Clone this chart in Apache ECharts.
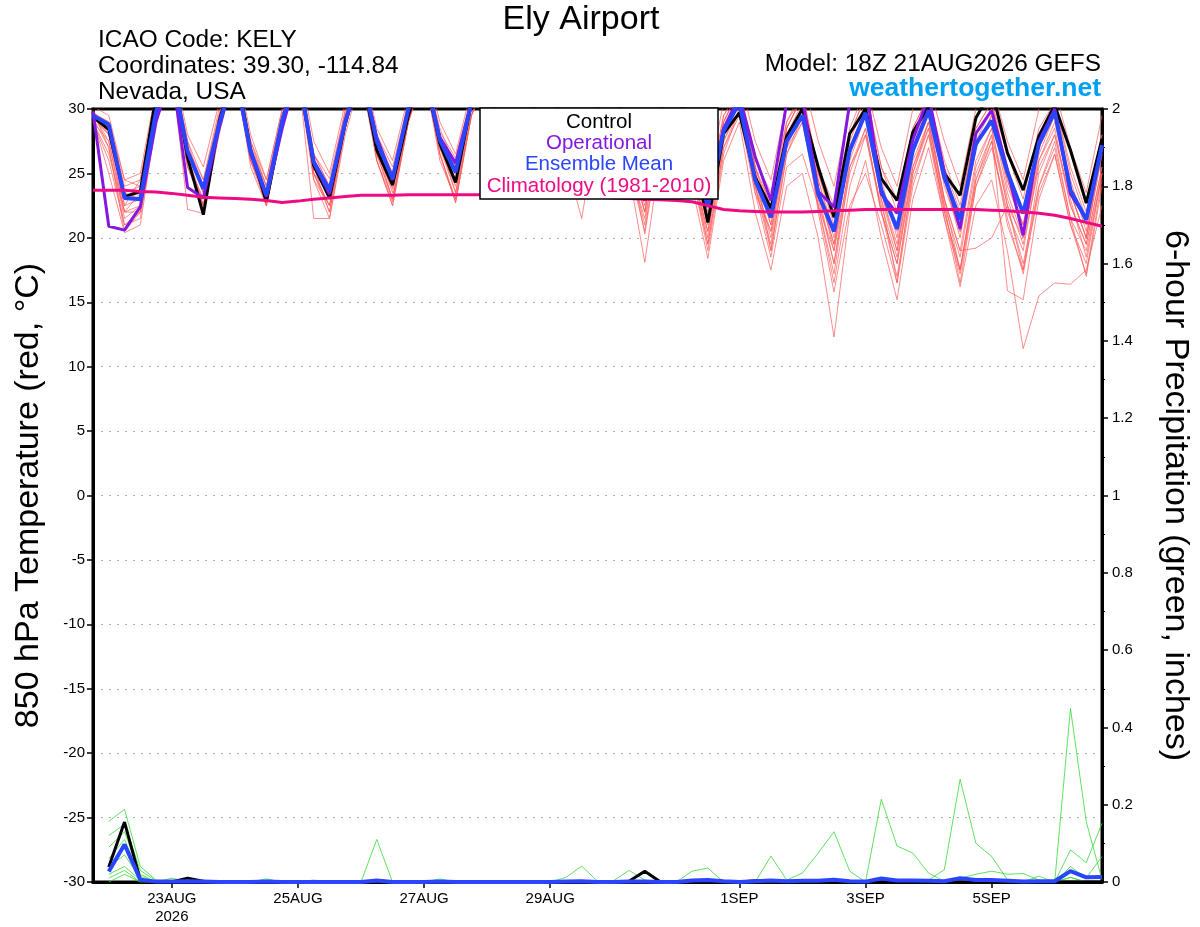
<!DOCTYPE html>
<html><head><meta charset="utf-8">
<script src="https://cdn.jsdelivr.net/npm/echarts@6/dist/echarts.min.js"></script>
<style>html,body{margin:0;padding:0;background:#fff}#c{width:1200px;height:927px}</style>
</head><body><div id="c"></div>
<script>
// forecast hours from 18Z 21AUG2026, every 6 h
const forecastHours = Array.from({length: 65}, (_, i) => i * 6);
const tickIndex = [5, 13, 21, 29, 41, 49, 57];
const tickLabels = ['23AUG\n2026', '25AUG', '27AUG', '29AUG', '1SEP', '3SEP', '5SEP'];

// 850 hPa temperature (°C)
const control = [29.4,
 28.4,23.2,23.6,31.0, 33.5,26.2,21.8,29.0, 33.5,26.8,22.8,28.9, 33.0,25.6,23.1,28.9,
 33.0,26.8,24.1,29.5, 33.0,27.3,24.3,30.5, 33.0,27.5,24.0,30.5, 33.0,27.0,23.5,30.0,
 33.0,27.0,22.9,30.0, 33.0,27.0,21.2,28.1, 29.7,24.7,22.3,27.9, 30.0,25.5,21.6,28.1,
 30.0,24.6,22.9,28.2, 30.2,25.0,23.3,29.3, 31.5,26.6,23.7,27.9, 30.3,26.8,22.7,27.7];
const operational = [29.8,
 20.9,20.6,22.4,29.0, 33.0,23.9,23.1,28.5, 33.0,26.5,23.2,28.5, 33.0,25.8,23.4,29.0,
 33.0,27.8,24.5,30.0, 33.0,27.8,25.8,30.5, 33.0,27.5,24.5,30.5, 33.0,27.0,24.0,30.0,
 33.0,27.0,23.5,30.0, 33.0,27.0,22.7,28.5, 31.0,26.3,22.9,30.5, 30.8,23.6,22.4,30.5,
 32.0,23.4,21.9,27.6, 31.0,25.1,20.7,28.1, 29.9,25.3,20.2,27.5, 30.0,23.4,21.5,27.1];
const ensMean = [29.5,
 28.8,23.1,23.0,29.8, 33.0,26.7,23.8,28.8, 33.0,26.7,23.3,29.1, 33.0,25.9,23.7,29.0,
 33.0,27.5,24.6,30.0, 33.0,27.6,25.1,30.5, 32.5,27.5,24.5,30.3, 32.5,27.0,23.8,30.0,
 32.5,27.0,23.5,30.0, 32.0,27.0,22.4,28.3, 30.5,24.5,21.6,27.5, 29.5,23.4,20.5,26.8,
 29.7,23.7,20.7,26.8, 29.9,24.7,21.4,27.3, 29.1,25.1,21.9,27.3, 29.8,23.7,21.4,27.2];
const climatology = [23.7,
 23.7,23.7,23.6,23.55, 23.45,23.3,23.15,23.1, 23.05,23.0,22.9,22.75, 22.85,23.0,23.1,23.2,
 23.3,23.3,23.3,23.35, 23.35,23.35,23.35,23.35, 23.35,23.3,23.3,23.3, 23.25,23.2,23.2,23.15,
 23.1,23.05,23.0,22.95, 22.9,22.8,22.5,22.2, 22.1,22.05,22.0,22.0, 22.0,22.05,22.1,22.15,
 22.2,22.2,22.2,22.2, 22.2,22.2,22.2,22.2, 22.15,22.1,22.0,21.9, 21.75,21.5,21.2,20.9];

const m1 = [29.6,
 29.0,24.0,24.5,31.0, 33.5,27.0,24.5,29.5, 33.5,27.2,24.0,29.6, 33.2,26.5,24.6,29.8,
 33.5,28.0,25.5,30.5, 33.5,28.2,26.2,31.0, 33.0,28.0,25.5,31.0, 33.0,27.5,24.8,30.5,
 33.0,27.5,24.5,30.5, 32.5,27.5,23.5,29.5, 31.5,26.0,23.5,29.0, 31.0,25.5,22.5,28.5,
 31.5,25.5,23.0,28.5, 31.0,26.0,22.5,28.5, 30.5,26.5,23.0,28.5, 30.5,25.5,22.0,28.0];
const m2 = [29.0,
 26.0,21.0,21.5,29.0, 32.5,25.5,22.5,28.5, 32.5,26.0,22.5,28.5, 32.5,24.5,21.5,28.0,
 32.5,26.0,22.5,29.0, 32.5,26.5,22.8,29.5, 32.0,26.5,23.5,29.5, 32.0,26.0,21.5,29.0,
 32.0,25.5,20.5,28.5, 31.0,25.0,19.5,27.0, 30.0,24.0,19.0,26.5, 29.5,22.5,16.5,24.0,
 28.0,22.0,18.0,25.5, 29.0,23.0,19.0,26.0, 28.5,23.0,19.5,25.5, 28.0,22.5,19.5,25.5];
const m3 = [29.3,
 28.0,22.5,23.0,30.5, 33.0,26.0,23.0,29.0, 33.0,26.5,23.5,29.0, 33.0,25.5,23.0,29.0,
 33.0,27.0,23.5,29.5, 33.0,27.0,24.0,30.0, 32.5,27.0,24.0,30.0, 32.5,26.5,23.0,29.5,
 32.5,25.0,18.1,26.5, 30.5,24.0,18.4,26.0, 29.0,22.0,17.5,24.0, 25.0,20.0,12.3,22.0,
 26.0,20.0,15.2,23.0, 27.0,21.5,16.2,22.5, 24.5,19.0,11.4,15.5, 16.5,16.4,17.5,22.5];
const m4 = [29.8,
 27.0,20.5,22.0,29.5, 33.0,22.2,21.9,28.0, 33.0,26.0,23.0,28.8, 33.0,25.0,22.5,28.5,
 33.0,26.5,23.0,29.0, 33.0,26.5,23.0,29.5, 32.5,27.0,23.5,30.0, 32.5,26.5,23.5,30.0,
 32.5,26.0,21.0,29.0, 31.5,25.5,20.5,28.0, 30.5,24.5,20.0,27.5, 30.0,23.5,18.0,26.0,
 29.5,23.0,16.5,25.0, 28.5,22.0,17.5,25.0, 28.0,15.9,15.2,23.0, 26.5,21.0,17.2,24.5];
const m5 = [29.5,
 28.5,23.5,24.0,30.5, 33.5,26.5,23.5,29.5, 33.5,26.0,23.0,28.5, 33.0,21.5,21.5,28.5,
 33.0,26.5,23.8,29.5, 33.0,27.0,24.5,30.0, 32.5,27.5,24.5,30.5, 32.5,27.0,24.0,30.0,
 32.5,26.5,22.0,29.5, 31.5,25.5,21.0,28.5, 30.5,25.0,21.0,28.0, 30.5,24.0,19.0,27.0,
 30.0,23.5,19.0,26.5, 29.5,23.0,19.0,19.2, 20.0,22.5,20.0,26.0, 29.0,23.5,20.0,26.5];
const m6 = [29.2,
 25.0,20.4,21.0,29.0, 32.5,26.0,22.5,28.5, 33.0,26.5,22.5,29.0, 33.0,24.5,22.5,28.5,
 33.0,26.0,22.5,29.0, 33.0,26.5,22.7,29.5, 32.5,27.0,23.5,30.0, 32.5,26.5,23.5,30.0,
 32.5,26.5,23.5,30.0, 32.0,26.5,22.5,29.0, 31.5,25.5,19.0,26.5, 29.0,23.0,18.0,25.0,
 28.5,22.0,18.0,25.0, 29.0,23.0,17.5,24.5, 28.0,22.5,17.5,25.0, 28.0,23.0,18.5,25.0];
const m7 = [30.2,
 29.5,24.5,25.0,31.5, 34.0,28.0,25.5,30.5, 34.0,28.0,24.5,30.0, 34.0,27.5,25.0,30.5,
 34.0,28.5,26.0,31.0, 34.0,29.0,26.5,31.5, 33.5,29.0,26.5,31.5, 33.5,28.5,26.0,31.0,
 33.5,28.5,25.5,31.0, 33.0,28.0,24.5,30.5, 32.5,27.5,24.5,30.5, 32.5,27.5,24.0,30.0,
 32.0,27.0,24.0,30.0, 32.0,27.5,24.0,30.0, 32.0,27.5,24.5,30.0, 31.5,27.0,23.5,29.5];
const m8 = [29.0,
 27.5,22.0,22.5,30.0, 33.0,25.5,23.0,29.0, 33.0,26.5,23.5,29.0, 33.0,25.0,23.5,29.5,
 33.0,27.0,24.0,30.0, 33.0,27.5,24.5,30.5, 33.0,27.5,25.0,30.5, 33.0,27.0,24.5,30.5,
 33.0,27.0,22.5,29.5, 31.5,25.5,19.5,27.0, 29.5,23.5,20.5,27.5, 30.0,22.0,15.8,22.5,
 25.0,21.0,16.5,24.0, 28.0,22.5,18.5,25.5, 28.5,22.5,18.0,24.0, 27.0,21.5,17.0,24.0];
const m9 = [29.4,
 28.0,23.0,23.5,30.5, 33.0,27.0,24.0,29.5, 33.0,27.0,24.0,29.5, 33.0,26.0,24.0,29.5,
 33.0,27.5,25.0,30.0, 33.0,28.0,25.5,30.5, 33.0,28.0,25.0,31.0, 33.0,27.5,24.5,30.5,
 32.5,27.0,23.0,30.0, 32.0,26.5,22.0,29.0, 31.5,25.5,22.5,29.0, 31.5,25.0,21.0,28.0,
 31.0,24.5,20.0,27.5, 30.5,24.5,20.5,27.5, 30.0,24.0,21.0,27.0, 29.5,24.5,20.5,27.0];
const m10 = [29.6,
 27.5,21.5,22.5,30.0, 33.0,26.5,22.5,29.0, 33.0,26.0,23.5,29.0, 33.0,25.5,22.0,29.0,
 33.0,27.0,23.0,29.5, 33.0,27.5,23.5,30.0, 33.0,27.5,24.0,30.0, 33.0,27.5,23.5,30.0,
 32.5,26.5,20.3,28.0, 31.0,25.0,20.5,27.5, 30.5,24.0,20.5,27.0, 30.0,23.5,19.5,26.5,
 29.5,23.0,19.0,26.0, 29.0,22.5,16.5,24.0, 27.0,22.0,19.0,26.0, 28.5,22.5,19.5,25.5];
const m11 = [29.8,
 28.5,22.5,24.5,30.5, 33.0,27.5,23.5,29.5, 33.5,27.5,24.5,30.0, 33.5,26.5,24.0,30.0,
 33.5,27.5,24.5,30.0, 33.5,28.0,25.0,30.5, 33.0,28.0,24.5,30.5, 33.0,27.5,24.0,30.5,
 33.0,27.0,22.0,29.5, 32.0,26.0,21.5,28.5, 31.0,25.5,21.5,28.5, 31.0,24.5,20.0,27.5,
 30.5,24.0,21.0,27.5, 30.5,24.5,21.5,28.0, 30.0,24.5,20.5,27.0, 29.5,23.5,20.0,27.0];
const m12 = [29.0,
 26.5,22.0,22.0,29.5, 33.0,26.0,22.5,28.5, 33.0,26.0,23.0,28.5, 33.0,25.0,22.5,28.5,
 33.0,26.5,23.0,29.0, 33.0,27.0,23.5,29.5, 32.5,27.0,23.5,30.0, 32.5,26.5,23.0,29.5,
 32.0,25.5,21.5,28.5, 31.0,25.0,19.0,26.5, 30.0,23.5,18.5,25.5, 26.5,22.5,17.2,25.5,
 28.0,22.5,18.5,25.5, 28.5,22.0,17.5,24.5, 27.5,21.0,17.5,23.5, 26.5,21.0,18.0,25.0];
const m13 = [29.5,
 28.5,23.5,23.0,30.5, 33.5,27.0,23.5,29.0, 33.5,27.0,23.5,29.5, 33.5,26.0,23.5,29.0,
 33.5,27.5,24.0,30.0, 33.5,27.5,24.5,30.5, 33.0,28.0,24.5,30.5, 33.0,27.0,24.0,30.5,
 33.0,27.0,23.0,30.0, 32.0,26.5,22.5,29.0, 31.5,25.0,21.0,27.5, 30.0,24.5,20.5,27.0,
 30.0,24.0,20.5,27.0, 30.5,24.5,20.0,27.0, 29.5,24.5,21.0,27.5, 30.0,24.0,21.0,27.5];
const m14 = [29.7,
 29.0,24.5,24.0,31.0, 33.5,27.5,24.5,30.0, 33.5,27.5,24.0,29.5, 33.5,26.5,24.0,29.5,
 33.5,28.0,25.0,30.5, 33.5,28.5,25.5,31.0, 33.0,28.5,25.5,31.0, 33.0,28.0,25.0,31.0,
 33.0,28.0,24.0,30.5, 32.5,27.0,23.0,29.5, 31.5,26.5,22.0,28.5, 31.0,25.0,21.5,28.0,
 31.0,25.5,22.0,28.5, 31.0,25.5,22.0,28.5, 30.5,25.5,22.0,28.0, 30.5,25.0,21.5,28.0];
const m15 = [29.3,
 27.0,21.0,22.0,29.5, 33.0,25.5,22.5,28.5, 33.0,25.5,22.5,28.5, 33.0,25.0,22.0,28.5,
 33.0,26.0,22.8,29.0, 33.0,26.0,23.0,29.5, 32.5,26.5,23.5,29.5, 32.5,26.5,23.0,29.5,
 32.0,26.0,22.0,29.0, 31.5,25.5,20.0,27.5, 30.0,24.0,19.5,27.0, 29.0,22.5,19.0,25.5,
 28.5,22.0,17.0,24.5, 28.0,21.5,17.2,24.0, 27.5,21.5,17.2,24.0, 27.5,21.5,19.0,25.0];
const m16 = [29.9,
 28.0,22.0,23.5,30.5, 33.5,26.5,24.0,29.5, 33.5,27.0,23.5,29.5, 33.5,26.0,23.0,29.0,
 33.5,27.0,24.5,30.0, 33.5,27.5,25.0,30.5, 33.0,27.5,25.0,30.5, 33.0,27.5,24.5,30.5,
 33.0,27.5,23.5,30.5, 32.5,27.0,21.5,28.5, 31.0,25.5,22.0,28.5, 31.0,24.0,19.5,26.5,
 29.5,23.5,19.5,26.5, 30.0,24.0,20.5,27.0, 29.5,23.5,20.0,26.5, 29.5,23.5,20.0,26.5];
const members = [m1, m2, m3, m4, m5, m6, m7, m8, m9, m10, m11, m12, m13, m14, m15, m16];

// 6-hour precipitation (inches)
const precipControl = ['-',
 0.039,0.155,0.005,0,0,0.010,0.002,0, 0,0,0,0,0,0,0,0, 0,0,0,0,0,0,0,0, 0,0,0,0,0,0,0,0,
 0,0.002,0.028,0,0,0,0,0, 0,0.003,0,0,0,0,0,0, 0,0,0,0,0,0,0,0, 0,0,0,0,0,0,0,0];
const precipMean = ['-',
 0.027,0.097,0.006,0.001,0.001,0.002,0.001,0, 0,0,0.001,0,0,0,0,0, 0,0.004,0,0,0,0.001,0,0,
 0,0,0,0,0,0.001,0.002,0, 0,0.001,0.001,0,0,0.004,0.005,0.002, 0,0.002,0.004,0.002,0.003,0.003,0.006,0.002,
 0.001,0.009,0.004,0.004,0.003,0.002,0.010,0.005, 0.005,0.003,0.001,0.002,0.002,0.028,0.012,0.013];
const g1 = ['-',
 0.157,0.188,0.040,0.005,0,0,0,0, 0,0,0,0,0,0,0,0, 0,0.110,0,0,0,0,0,0, 0,0,0,0,0,0,0,0,
 0,0,0,0,0,0,0,0, 0,0,0,0,0,0,0,0, 0,0,0,0,0,0,0,0, 0,0,0,0,0,0.449,0.156,0.006];
const g2 = ['-',
 0.120,0.150,0.030,0.003,0,0,0,0, 0,0,0,0,0,0,0,0, 0,0,0,0,0,0,0,0, 0,0,0,0,0,0,0,0,
 0,0,0,0,0,0,0,0, 0,0,0,0,0,0,0,0, 0,0.214,0.093,0.075,0.023,0.002,0,0, 0,0,0,0,0,0,0,0];
const g3 = ['-',
 0.090,0.130,0.020,0,0.010,0,0,0, 0,0,0,0,0,0,0,0, 0,0,0,0,0,0,0,0, 0,0,0,0,0,0,0,0,
 0,0,0,0,0,0,0,0, 0,0,0,0,0,0,0,0, 0,0,0,0,0.005,0.032,0.266,0.100, 0.066,0.006,0,0,0,0.012,0,0];
const g4 = ['-',
 0.060,0.110,0.015,0,0,0,0,0, 0,0,0.008,0,0,0,0,0, 0,0,0,0,0,0,0,0, 0,0,0,0,0,0,0,0,
 0,0,0,0,0,0,0,0, 0,0,0.067,0.005,0.023,0.075,0.130,0.028, 0,0,0,0,0,0,0,0, 0,0,0,0,0,0,0,0];
const g5 = ['-',
 0.040,0.070,0.010,0,0,0,0,0, 0,0,0,0,0,0,0,0, 0,0,0,0,0,0.008,0,0, 0,0,0,0,0,0,0,0,
 0,0,0,0,0,0.028,0.036,0, 0,0,0,0,0,0,0,0, 0,0,0,0,0,0,0,0, 0,0,0,0.015,0,0.083,0.050,0.152];
const g6 = ['-',
 0.020,0.040,0.005,0,0,0,0,0, 0,0,0,0,0,0.005,0,0, 0,0,0,0,0,0,0,0, 0,0,0,0,0,0.012,0.041,0.002,
 0.003,0.030,0.005,0,0,0,0,0, 0,0,0,0,0,0,0,0, 0,0,0,0,0,0,0,0, 0,0,0,0,0,0.040,0.010,0.066];
const g7 = ['-',
 0.010,0.030,0,0,0,0,0,0, 0,0,0,0,0,0,0,0, 0,0,0,0,0,0,0,0, 0,0,0,0,0,0,0,0,
 0,0,0,0,0,0,0,0, 0,0,0,0,0,0,0,0, 0,0,0,0,0,0,0.010,0.020, 0.028,0.020,0.022,0.005,0,0.012,0,0];
const g8 = ['-',
 0,0.020,0,0,0,0,0,0, 0,0,0,0,0,0,0,0, 0,0,0,0,0,0,0,0, 0,0,0,0,0,0,0,0,
 0,0,0,0,0,0,0,0, 0,0,0,0,0,0,0,0, 0,0,0,0,0,0,0,0, 0,0,0,0,0,0,0,0];
const precipMembers = [g1, g2, g3, g4, g5, g6, g7, g8];

const FONT = '"Liberation Sans", Arial, sans-serif';
const C_CTRL = '#000000', C_OPER = '#8418e0', C_MEAN = '#2a45ff', C_CLIM = '#ee0a82';
const C_MEMBER = '#ff5a5a', C_GREEN = '#38d838';

const chart = echarts.init(document.getElementById('c'), null, {renderer: 'canvas'});
const line = (data, color, width, yAxisIndex, z) => ({
  type: 'line', data, yAxisIndex, symbol: 'none', silent: true, z,
  lineStyle: {color, width}, emphasis: {disabled: true}
});
const series = [];
members.forEach(d => series.push(line(d, C_MEMBER, 0.7, 0, 2)));
precipMembers.forEach(d => series.push(line(d, C_GREEN, 0.8, 1, 2)));
series.push(line(control, C_CTRL, 3, 0, 3));
series.push(line(operational, C_OPER, 3, 0, 3));
series.push(line(ensMean, C_MEAN, 4, 0, 3));
series.push(line(climatology, C_CLIM, 3, 0, 3));
series.push(line(precipControl, C_CTRL, 3, 1, 3));
series.push(line(precipMean, C_MEAN, 4, 1, 3));

const isTick = (i) => tickIndex.includes(i);

chart.setOption({
  animation: false,
  textStyle: {fontFamily: FONT},
  grid: {left: 93, right: 94, top: 109, bottom: 45, show: true, borderColor: '#000', borderWidth: 3, backgroundColor: 'transparent'},
  xAxis: {
    type: 'category', data: forecastHours, boundaryGap: false,
    axisLine: {show: true, onZero: false, lineStyle: {color: '#000', width: 3}},
    axisTick: {show: true, interval: (i) => isTick(i), length: 6, lineStyle: {color: '#000', width: 1.5}},
    axisLabel: {interval: (i) => isTick(i), formatter: (v, i) => tickLabels[tickIndex.indexOf(i)] || '',
      color: '#000', fontSize: 15, margin: 8, lineHeight: 18, fontFamily: FONT},
    splitLine: {show: false}
  },
  yAxis: [{
    type: 'value', min: -30, max: 30, interval: 5, position: 'left',
    axisLine: {show: true, onZero: false, lineStyle: {color: '#000', width: 3}},
    axisTick: {show: true, length: 6, lineStyle: {color: '#000', width: 1.5}},
    axisLabel: {color: '#000', fontSize: 15, margin: 8, fontFamily: FONT},
    splitLine: {show: true, showMinLine: false, showMaxLine: false, lineStyle: {color: '#b0b0b0', width: 1, type: [2, 6]}},
    name: '850 hPa Temperature (red, °C)', nameLocation: 'middle', nameGap: 47, nameRotate: 90,
    nameTextStyle: {color: '#000', fontSize: 34, fontFamily: FONT}
  }, {
    type: 'value', min: 0, max: 2, interval: 0.2, position: 'right',
    axisLine: {show: true, onZero: false, lineStyle: {color: '#000', width: 3}},
    axisTick: {show: true, length: 6, lineStyle: {color: '#000', width: 1.5}},
    minorTick: {show: true, splitNumber: 2, length: 3, lineStyle: {color: '#000', width: 1}},
    axisLabel: {color: '#000', fontSize: 15, margin: 10, fontFamily: FONT,
      formatter: (v) => String(Math.round(v * 10) / 10)},
    splitLine: {show: false},
    name: '6-hour Precipitation (green, inches)', nameLocation: 'middle', nameGap: 56, nameRotate: -90,
    nameTextStyle: {color: '#000', fontSize: 34, fontFamily: FONT}
  }],
  series,
  graphic: [
    {type: 'text', z: 100, style: {x: 581, y: 20, text: 'Ely Airport', font: '34px ' + FONT, fill: '#000', textAlign: 'center', textVerticalAlign: 'middle'}},
    {type: 'text', z: 100, style: {x: 98, y: 40, text: 'ICAO Code: KELY', font: '24.4px ' + FONT, fill: '#000', textAlign: 'left', textVerticalAlign: 'middle'}},
    {type: 'text', z: 100, style: {x: 98, y: 66, text: 'Coordinates: 39.30, -114.84', font: '24.4px ' + FONT, fill: '#000', textAlign: 'left', textVerticalAlign: 'middle'}},
    {type: 'text', z: 100, style: {x: 98, y: 92, text: 'Nevada, USA', font: '24.4px ' + FONT, fill: '#000', textAlign: 'left', textVerticalAlign: 'middle'}},
    {type: 'text', z: 100, style: {x: 1101, y: 64, text: 'Model: 18Z 21AUG2026 GEFS', font: '24.4px ' + FONT, fill: '#000', textAlign: 'right', textVerticalAlign: 'middle'}},
    {type: 'text', z: 100, style: {x: 1101, y: 89, text: 'weathertogether.net', font: 'bold 26.5px ' + FONT, fill: '#00a0f0', textAlign: 'right', textVerticalAlign: 'middle'}},
    {type: 'rect', z: 100, shape: {x: 480, y: 108, width: 238, height: 91}, style: {fill: '#fff', stroke: '#000', lineWidth: 1.5}},
    {type: 'text', z: 101, style: {x: 599, y: 122, text: 'Control', font: '20.5px ' + FONT, fill: C_CTRL, textAlign: 'center', textVerticalAlign: 'middle'}},
    {type: 'text', z: 101, style: {x: 599, y: 143, text: 'Operational', font: '20.5px ' + FONT, fill: C_OPER, textAlign: 'center', textVerticalAlign: 'middle'}},
    {type: 'text', z: 101, style: {x: 599, y: 164, text: 'Ensemble Mean', font: '20.5px ' + FONT, fill: C_MEAN, textAlign: 'center', textVerticalAlign: 'middle'}},
    {type: 'text', z: 101, style: {x: 599, y: 186, text: 'Climatology (1981-2010)', font: '20.5px ' + FONT, fill: C_CLIM, textAlign: 'center', textVerticalAlign: 'middle'}}
  ]
});
</script>
</body></html>
